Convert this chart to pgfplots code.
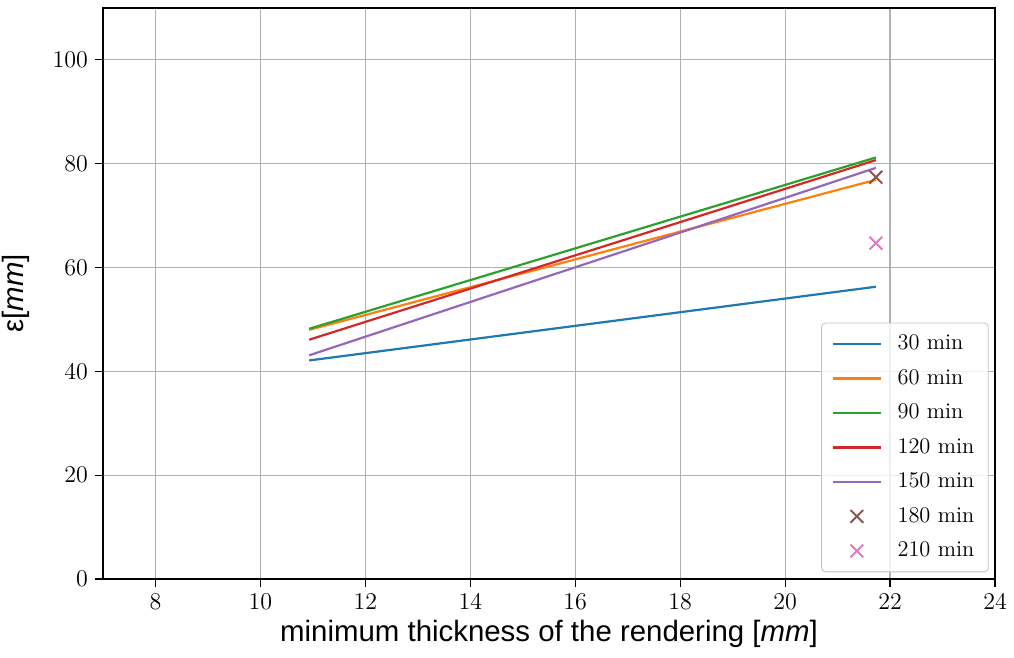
\documentclass[border=0pt]{standalone}
\usepackage{fontspec}
\usepackage{pgfplots}
\pgfplotsset{compat=1.18}
\newfontfamily\lsans{Liberation Sans}
\definecolor{c1}{HTML}{1F77B4}
\definecolor{c2}{HTML}{FF7F0E}
\definecolor{c3}{HTML}{2CA02C}
\definecolor{c4}{HTML}{D62728}
\definecolor{c5}{HTML}{9467BD}
\definecolor{c6}{HTML}{8C564B}
\definecolor{c7}{HTML}{E377C2}
\definecolor{gridc}{HTML}{B0B0B0}
\pgfplotsset{
  lineleg/.style={legend image code/.code={\draw[##1] (0cm,0cm) -- (0.85cm,0cm); \path (1.05cm,0cm);}},
  markleg/.style={legend image code/.code={\draw[##1] plot coordinates {(0.425cm,0cm)}; \path (0cm,0cm) (1.05cm,0cm);}},
}
\begin{document}
\begin{tikzpicture}
\begin{axis}[
  scale only axis,
  width=446pt, height=285.5pt,
  xmin=7, xmax=24, ymin=0, ymax=110,
  xtick={8,10,...,24}, ytick={0,20,...,100},
  grid=major,
  major grid style={gridc, line width=0.6pt},
  axis line style={black, line width=0.6pt},
  tick align=outside, major tick length=4pt,
  tick style={black, line width=0.6pt},
  tick label style={font=\fontsize{12.5}{14}\selectfont},
  xtick pos=bottom, ytick pos=left,
  xlabel={\lsans\fontsize{14.7}{17}\selectfont minimum thickness of the rendering [\textit{mm}]},
  ylabel={\lsans\fontsize{14.7}{17}\selectfont ε[\textit{mm}]},
  xlabel style={at={(axis description cs:0.5,0)}, anchor=north, yshift=-17pt},
  ylabel style={at={(axis description cs:0,0.5)}, anchor=south, yshift=33pt},
  legend style={at={(axis cs:23.88,1.3)}, anchor=south east,
    font=\fontsize{11.2}{13}\selectfont, draw=gridc!80, rounded corners=2pt,
    fill=white, fill opacity=0.8, text opacity=1,
    row sep=4.3pt, inner xsep=5pt, inner ysep=4pt},
  legend cell align=left,
  lineleg,
]
\addplot[c1, line width=1.1pt] coordinates {(10.93,42.1) (21.73,56.3)};
\addlegendentry{30 min}
\addplot[c2, line width=1.1pt] coordinates {(10.93,48.0) (21.73,76.9)};
\addlegendentry{60 min}
\addplot[c3, line width=1.1pt] coordinates {(10.93,48.2) (21.73,81.2)};
\addlegendentry{90 min}
\addplot[c4, line width=1.1pt] coordinates {(10.93,46.1) (21.73,80.7)};
\addlegendentry{120 min}
\addplot[c5, line width=1.1pt] coordinates {(10.93,43.1) (21.73,79.2)};
\addlegendentry{150 min}
\addplot[c6, only marks, mark=x, mark size=4.5pt, line width=1pt, markleg] coordinates {(21.73,77.4)};
\addlegendentry{180 min}
\addplot[c7, only marks, mark=x, mark size=4.5pt, line width=1pt, markleg] coordinates {(21.73,64.7)};
\addlegendentry{210 min}
\end{axis}
\pgfresetboundingbox
\path ([shift={(-51.5pt,-39pt)}]current axis.south west) rectangle ([shift={(9.5pt,4pt)}]current axis.north east);
\end{tikzpicture}
\end{document}
